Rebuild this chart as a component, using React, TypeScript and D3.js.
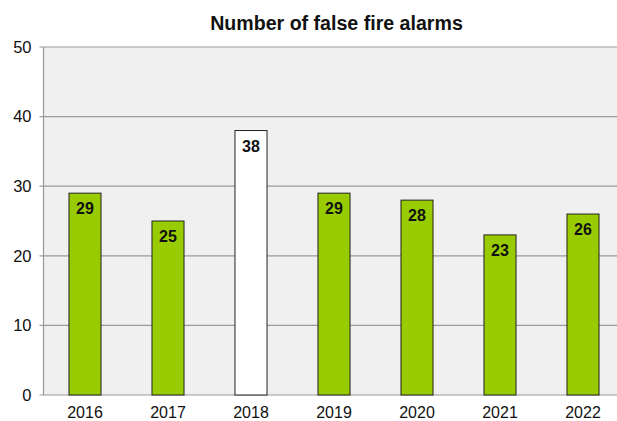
import React from "react";
import * as d3 from "d3";

const years = ["2016", "2017", "2018", "2019", "2020", "2021", "2022"];
const alarms = [29, 25, 38, 29, 28, 23, 26];
const highlightYear = "2018";
const yTicks = [0, 10, 20, 30, 40, 50];
const title = "Number of false fire alarms";

const W = 617;
const H = 421;
const margin = { left: 43.5, top: 47, bottom: 26 };
const plotRight = 624.5;

export default function App() {
  const y = d3.scaleLinear().domain([0, 50]).range([H - margin.bottom, margin.top]);
  const x = d3.scaleBand<string>().domain(years).range([margin.left, plotRight]).paddingInner(0.614).paddingOuter(0.307);
  const font = "'Liberation Sans', Arial, sans-serif";
  return (
    <svg width={W} height={H} style={{ position: "absolute", left: 0, top: 0, background: "#fff" }}>
      <rect x={margin.left} y={margin.top} width={plotRight - margin.left} height={y(0) - margin.top} fill="#f0f0f0" />
      {yTicks.map((t) => (
        <g key={t}>
          <line x1={margin.left - 4} x2={plotRight} y1={y(t)} y2={y(t)} stroke="#9a9a9a" strokeWidth={1.2} />
          <text x={31.5} y={y(t) + 5.8} textAnchor="end" fontFamily={font} fontSize={16.5} fill="#111">{t}</text>
        </g>
      ))}
      <line x1={margin.left} x2={margin.left} y1={margin.top} y2={y(0)} stroke="#9a9a9a" strokeWidth={1.2} />
      {years.map((yr, i) => (
        <g key={yr}>
          <rect
            x={x(yr)}
            y={y(alarms[i])}
            width={x.bandwidth()}
            height={y(0) - y(alarms[i])}
            fill={yr === highlightYear ? "#ffffff" : "#99cc00"}
            stroke="#222"
            strokeWidth={1}
          />
          <text x={(x(yr) as number) + x.bandwidth() / 2} y={y(alarms[i]) + 21} textAnchor="middle" fontFamily={font} fontWeight="bold" fontSize={16} fill="#111">{alarms[i]}</text>
          <text x={(x(yr) as number) + x.bandwidth() / 2} y={417.5} textAnchor="middle" fontFamily={font} fontSize={16} fill="#111">{yr}</text>
        </g>
      ))}
      <text x={336.5} y={30} textAnchor="middle" fontFamily={font} fontWeight="bold" fontSize={19.6} fill="#111">{title}</text>
    </svg>
  );
}
